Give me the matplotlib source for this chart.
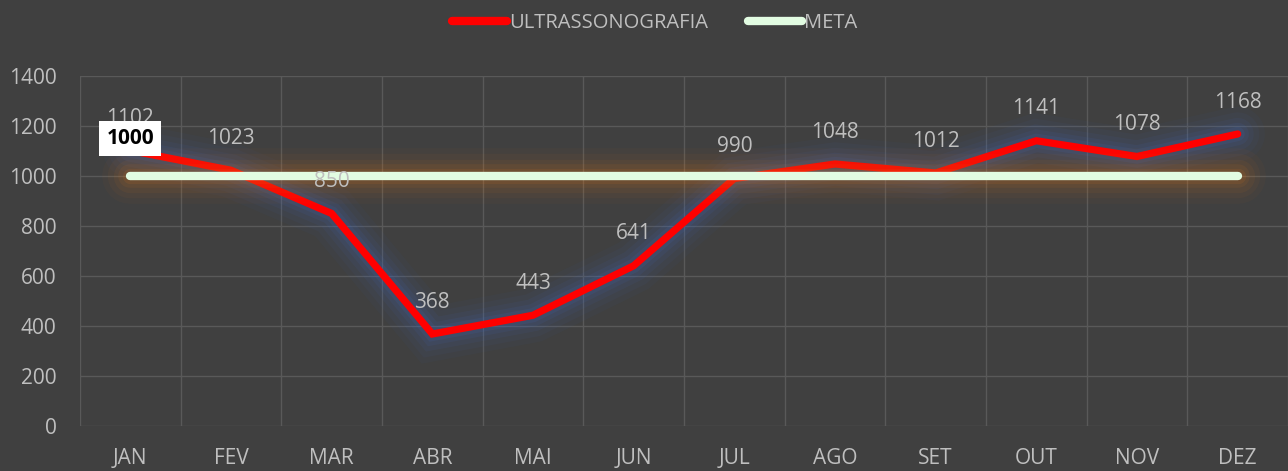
import numpy as np
import matplotlib.pyplot as plt
import matplotlib.patheffects as pe

meses = ['JAN', 'FEV', 'MAR', 'ABR', 'MAI', 'JUN', 'JUL', 'AGO', 'SET', 'OUT', 'NOV', 'DEZ']
ultrassonografia = [1102, 1023, 850, 368, 443, 641, 990, 1048, 1012, 1141, 1078, 1168]
meta = [1000] * 12
yticks = [0, 200, 400, 600, 800, 1000, 1200, 1400]

bg = '#404040'
txt = '#bfbfbf'
grid = '#595959'
fs = 15

plt.rcParams['font.family'] = ['Open Sans', 'DejaVu Sans']

fig = plt.figure(figsize=(12.88, 4.71), dpi=100, facecolor=bg)
ax = fig.add_axes([80/1288, 45/471, 1208/1288, 350/471], facecolor=bg)

x = np.arange(len(meses))

def glow(color, base):
    effs = []
    for w, a in [(base+34, 0.04), (base+26, 0.05), (base+18, 0.07), (base+11, 0.09), (base+5, 0.12)]:
        effs.append(pe.Stroke(linewidth=w, foreground=color, alpha=a))
    effs.append(pe.Normal())
    return effs

l1, = ax.plot(x, ultrassonografia, color='#ff0000', lw=5.2, solid_capstyle='round',
              solid_joinstyle='miter', label='ULTRASSONOGRAFIA', zorder=3)
l1.set_path_effects(glow('#3f6bc6', 5.2))
l2, = ax.plot(x, meta, color='#e2fce2', lw=6, solid_capstyle='round',
              label='META', zorder=4)
l2.set_path_effects(glow('#d9731a', 6))

for xi, v in zip(x, ultrassonografia):
    ax.annotate(str(v), (xi, v), xytext=(0, 23), textcoords='offset points',
                ha='center', va='center', color=txt, fontsize=fs, zorder=5)

ax.annotate(str(meta[0]), (x[0], meta[0]), xytext=(0, 27), textcoords='offset points',
            ha='center', va='center', color='black', fontsize=fs, fontweight='bold',
            bbox=dict(boxstyle='square,pad=0.35', fc='white', ec='none'), zorder=6)

ax.set_xlim(-0.5, 11.5)
ax.set_ylim(0, 1400)
ax.set_xticks(x)
ax.set_xticklabels(meses)
ax.set_xticks(np.arange(-0.5, 12, 1), minor=True)
ax.set_yticks(yticks)
ax.tick_params(axis='both', which='both', length=0, colors=txt, labelsize=fs)
ax.tick_params(axis='x', pad=16)
ax.tick_params(axis='y', pad=17)
ax.grid(True, axis='y', which='major', color=grid, lw=1)
ax.grid(True, axis='x', which='minor', color=grid, lw=1)
ax.grid(False, axis='x', which='major')
for s in ax.spines.values():
    s.set_visible(False)

leg = fig.legend(handles=[l1, l2], loc='center', bbox_to_anchor=(655/1288, 1 - 23/471), ncol=2,
                 frameon=False, fontsize=14.5, labelcolor=txt, handlelength=2.7,
                 handletextpad=0.1, columnspacing=2.0)
for h in leg.legend_handles:
    h.set_path_effects([])
    h.set_solid_capstyle('round')
    h.set_linewidth(6)

fig.savefig('out.png', dpi=100, facecolor=bg)
